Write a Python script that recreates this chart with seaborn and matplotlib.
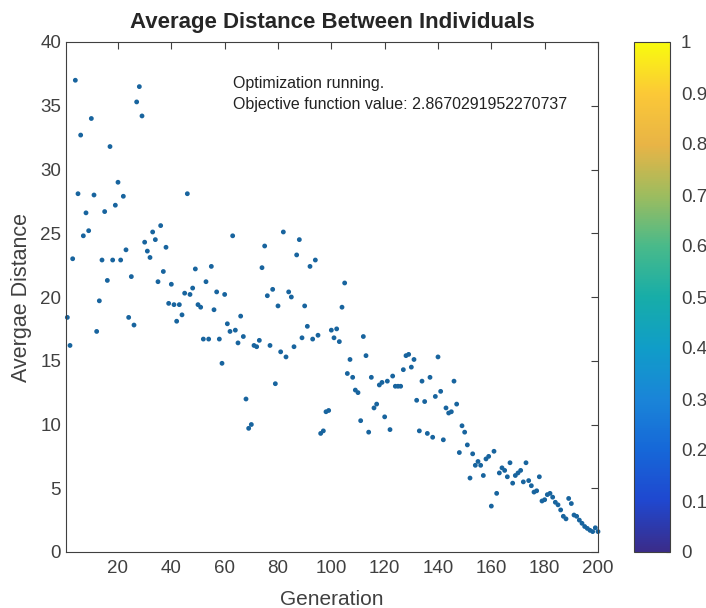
import numpy as np
import matplotlib
matplotlib.use("Agg")
import matplotlib.pyplot as plt
import seaborn as sns
from matplotlib.colors import LinearSegmentedColormap, Normalize
from matplotlib.cm import ScalarMappable

# --- data ---
generation = np.arange(1, 201)
dist_gen_1_66 = [18.4, 16.2, 23.0, 37.0, 28.1, 32.7, 24.8, 26.6, 25.2, 34.0, 28.0, 17.3, 19.7, 22.9, 26.7,
                 21.3, 31.8, 22.9, 27.2, 29.0, 22.9, 27.9, 23.7, 18.4, 21.6, 17.8, 35.3, 36.5, 34.2, 24.3,
                 23.6, 23.1, 25.1, 24.5, 21.2, 25.6, 22.0, 23.9, 19.5, 21.0, 19.4, 18.1, 19.4, 18.6, 20.3,
                 28.1, 20.2, 20.7, 22.2, 19.4, 19.2, 16.7, 21.2, 16.7, 22.4, 19.0, 20.4, 16.7, 14.8, 20.2,
                 17.9, 17.3, 24.8, 17.4, 16.4, 18.5]
dist_gen_67_99 = [16.9, 12.0, 9.7, 10.0, 16.2, 16.1, 16.6, 22.3, 24.0, 20.1, 16.2, 20.6, 13.2, 19.3, 15.7,
                  25.1, 15.3, 20.4, 20.0, 16.1, 23.3, 24.5, 16.8, 19.3, 17.7, 22.4, 16.7, 22.9, 17.0, 9.3,
                  9.5, 11.0, 11.1]
dist_gen_100_166 = [17.4, 16.8, 17.5, 16.5, 19.2, 21.1, 14.0, 15.1, 13.7, 12.7, 12.5, 10.3, 16.9, 15.4, 9.4,
                    13.7, 11.3, 11.6, 13.1, 13.3, 10.6, 13.4, 9.6, 13.8, 13.0, 13.0, 13.0, 14.3, 15.4, 15.5,
                    14.5, 15.1, 11.9, 9.5, 13.4, 11.8, 9.3, 13.7, 9.0, 12.2, 15.3, 12.6, 8.8, 11.3, 10.9,
                    11.0, 13.4, 11.6, 7.8, 9.9, 9.4, 8.4, 5.8, 7.7, 6.8, 7.1, 6.8, 6.0, 7.3, 7.5,
                    3.6, 7.9, 4.6, 6.2, 6.6, 6.4, 5.9]
dist_gen_167_200 = [7.0, 5.4, 6.0, 6.2, 6.4, 5.5, 7.0, 5.6, 5.2, 4.7, 4.8, 5.9, 4.0, 4.1, 4.5,
                    4.6, 4.3, 3.9, 3.7, 3.3, 2.8, 2.6, 4.2, 3.8, 2.9, 2.8, 2.5, 2.25, 2.0, 1.85,
                    1.7, 1.6, 1.9, 1.6]
avg_distance = dist_gen_1_66 + dist_gen_67_99 + dist_gen_100_166 + dist_gen_167_200

x_ticks = [20, 40, 60, 80, 100, 120, 140, 160, 180, 200]
y_ticks = [0, 5, 10, 15, 20, 25, 30, 35, 40]
cbar_ticks = [0, 0.1, 0.2, 0.3, 0.4, 0.5, 0.6, 0.7, 0.8, 0.9, 1]
cbar_labels = ['0', '0.1', '0.2', '0.3', '0.4', '0.5', '0.6', '0.7', '0.8', '0.9', '1']
status_text = 'Optimization running.\nObjective function value: 2.8670291952270737'

# parula-like colormap (MATLAB default)
parula_like = LinearSegmentedColormap.from_list('parula_like', [
    '#3a2c8a', '#1f48d0', '#1668d8', '#1a85d8', '#109dc8', '#17ada8',
    '#49ba8a', '#9ebc5e', '#e8b446', '#fbc837', '#f9fb0e'])

sns.set_style("white")
plt.rcParams['font.family'] = ['Liberation Sans', 'DejaVu Sans']

fig = plt.figure(figsize=(7.06, 6.08), dpi=100)
ax = fig.add_axes([66 / 706, 56 / 608, 532 / 706, 510 / 608])

sns.scatterplot(x=generation, y=avg_distance, ax=ax, s=12, color='#18649e',
                edgecolor='none', linewidth=0, clip_on=False)

ax.set_xlim(0.5, 200)
ax.set_ylim(0, 40)
ax.set_xticks(x_ticks)
ax.set_yticks(y_ticks)
ax.tick_params(direction='in', length=5, width=0.8, colors='#404040', labelsize=13.5,
               top=True, right=True, labeltop=False, labelright=False)
ax.tick_params(axis='x', pad=6)
for sp in ax.spines.values():
    sp.set_color('#404040')
    sp.set_linewidth(0.8)

ax.set_title('Average Distance Between Individuals', fontsize=16, fontweight='bold', pad=10)
ax.set_xlabel('Generation', fontsize=15, color='#404040', labelpad=9)
ax.set_ylabel('Avergae Distance', fontsize=15.5, color='#404040', labelpad=6)

ax.text(63, 37.3, status_text, fontsize=11.5, va='top', ha='left', color='#222222', linespacing=1.5)

# colorbar
cax = fig.add_axes([634 / 706, 56 / 608, 36 / 706, 510 / 608])
sm = ScalarMappable(norm=Normalize(0, 1), cmap=parula_like)
cb = fig.colorbar(sm, cax=cax, ticks=cbar_ticks)
cb.set_ticklabels(cbar_labels)
cb.outline.set_edgecolor('#404040')
cb.outline.set_linewidth(0.8)
cax.tick_params(direction='in', length=3, colors='#404040', labelsize=13.5, pad=8)

fig.savefig('out.png', dpi=100)
